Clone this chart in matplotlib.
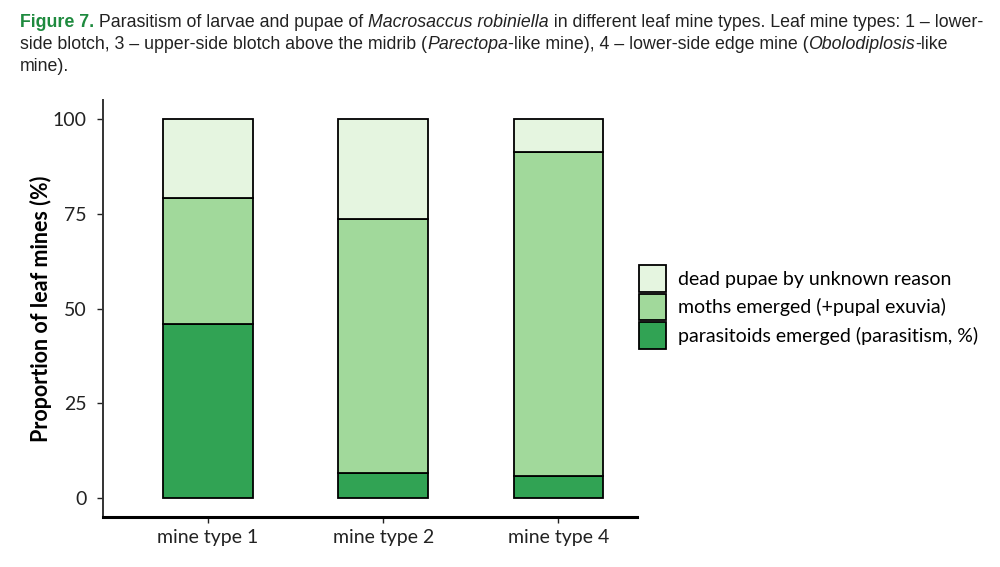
import matplotlib.pyplot as plt
from matplotlib.patches import Patch

categories = ["mine type 1", "mine type 2", "mine type 4"]
parasitoids = [45.8, 6.6, 5.8]
moths = [33.3, 66.9, 85.5]
dead = [20.9, 26.5, 8.7]
series_labels = ["parasitoids emerged (parasitism, %)",
                 "moths emerged (+pupal exuvia)",
                 "dead pupae by unknown reason"]
yticks = [0, 25, 50, 75, 100]

colors = ["#31a354", "#a1d99b", "#e5f5e0"]

plt.rcParams['font.family'] = ['Lato', 'DejaVu Sans']

fig = plt.figure(figsize=(10, 5.67), dpi=100)
ax = fig.add_axes([0.103, 0.0882, 0.534, 0.7354])

x = range(len(categories))
bottom = [0, 0, 0]
for vals, col in zip([parasitoids, moths, dead], colors):
    ax.bar(x, vals, width=0.51, bottom=bottom, color=col,
           edgecolor="black", linewidth=1.3)
    bottom = [b + v for b, v in zip(bottom, vals)]

ax.set_xlim(-0.6, 2.45)
ax.set_ylim(-5, 105)
ax.set_yticks(yticks)
ax.set_xticks(list(x))
ax.set_xticklabels(categories)
ax.tick_params(labelsize=14, length=4, width=1, colors="#222222", labelcolor="#222222")
ax.tick_params(axis="x", pad=5)
ax.tick_params(axis="y", pad=8)
ax.set_ylabel("Proportion of leaf mines (%)", fontsize=15.5, fontweight="bold", labelpad=0)
for s in ["top", "right"]:
    ax.spines[s].set_visible(False)
ax.spines["left"].set_linewidth(1.4)
ax.spines["bottom"].set_linewidth(2.2)
ax.spines["left"].set_color("#333333")

handles = [Patch(facecolor=c, edgecolor="black", linewidth=1.3) for c in colors]
leg = fig.legend(handles[::-1], series_labels[::-1], loc="upper left",
                 bbox_to_anchor=(0.639, 0.532), frameon=False, fontsize=14,
                 handlelength=1.4, handleheight=1.72, labelspacing=0.1,
                 handletextpad=0.6, borderaxespad=0, borderpad=0)

cap_font = ['Liberation Sans Narrow', 'Liberation Sans', 'DejaVu Sans']
line1 = [("Figure 7.", dict(color="#1e8a3e", fontweight="bold")),
         (" Parasitism of larvae and pupae of ", {}),
         ("Macrosaccus robiniella", dict(style="italic")),
         (" in different leaf mine types. Leaf mine types: 1 \u2013 lower-", {})]
line2 = [("side blotch, 3 \u2013 upper-side blotch above the midrib (", {}),
         ("Parectopa", dict(style="italic")),
         ("-like mine), 4 \u2013 lower-side edge mine (", {}),
         ("Obolodiplosis", dict(style="italic")),
         ("-like", {})]
line3 = [("mine).", {})]

renderer = fig.canvas.get_renderer()
for i, parts in enumerate([line1, line2, line3]):
    ypix = 567 - 27 - i * 22
    xpix = 20
    for txt, kw in parts:
        t = fig.text(xpix / 1000, ypix / 567, txt, fontsize=12.75, family=cap_font,
                     color=kw.get("color", "#222222"),
                     fontweight=kw.get("fontweight", "normal"),
                     style=kw.get("style", "normal"), va="baseline", ha="left")
        bb = t.get_window_extent(renderer)
        xpix += bb.width

fig.savefig("out.png", dpi=100)
